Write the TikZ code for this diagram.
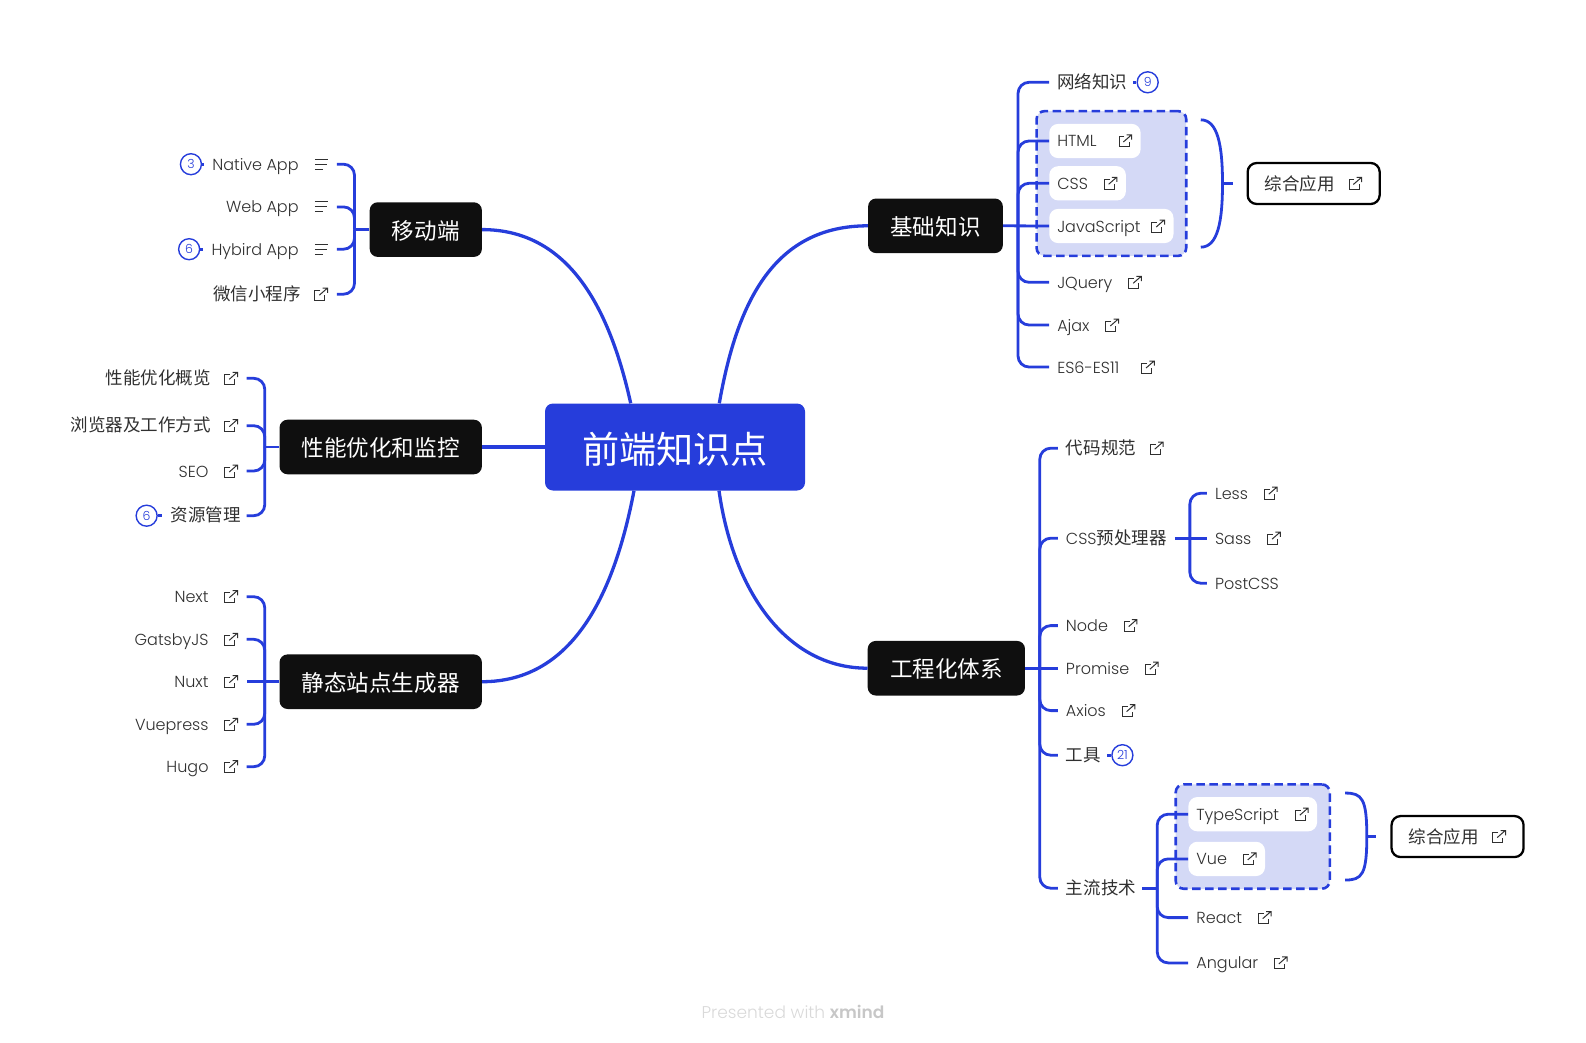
\documentclass[tikz,border=0pt]{standalone}
\usepackage{fontspec}
\usetikzlibrary{positioning,fit,backgrounds}
\setmainfont{Poppins}[UprightFont=* Light]
\newfontfamily\cjk{Noto Sans CJK SC}[Scale=1.094]
\newcommand{\cn}[1]{{\cjk #1}\kern-2pt}
\definecolor{mapblue}{HTML}{263DDB}
\definecolor{groupblue}{HTML}{D4D9F6}
\definecolor{topicblack}{HTML}{0F0F0F}
\definecolor{leafink}{HTML}{303030}
\begin{document}
\begin{tikzpicture}[
		root/.style={rectangle, rounded corners=8pt, fill=mapblue, text=white, minimum width=260pt, minimum height=87pt, text height=34pt, text depth=2pt, font=\cjk\fontsize{34}{40}\selectfont},
		topic/.style={rectangle, rounded corners=8pt, fill=topicblack, text=white, inner xsep=22.3pt, inner ysep=0pt, minimum height=54.6pt, text height=20.5pt, text depth=1.5pt, font=\cjk\fontsize{20.6}{24}\selectfont},
		leaf/.style={rectangle, rounded corners=9pt, inner xsep=8pt, inner ysep=0pt, minimum height=34.3pt, text height=14pt, text depth=2pt, text=leafink, font=\fontsize{16}{20}\selectfont},
		boxed/.style={leaf, fill=white},
		summary/.style={rectangle, rounded corners=9pt, draw=black, line width=2.3pt, fill=white, inner xsep=17pt, inner ysep=0pt, minimum height=41pt, text height=15pt, text depth=1pt, text=leafink, font=\fontsize{16}{20}\selectfont},
		group/.style={rectangle, rounded corners=8pt, draw=mapblue, fill=groupblue, line width=2.6pt, dash pattern=on 8.5pt off 4.5pt, inner sep=12.5pt},
		count/.style={circle, draw=mapblue, line width=1.4pt, fill=white, text=mapblue, minimum size=21pt, inner sep=0pt, font=\fontsize{12.5}{13}\selectfont},
		credit/.style={text=black!15, font=\fontsize{17}{20}\selectfont},
		mainline/.style={draw=mapblue, line width=3.3pt},
		branch/.style={draw=mapblue, line width=2.8pt, rounded corners=11pt},
		linked/.style={execute at end node=\hspace{30pt}, append after command={([xshift=-#1]\tikzlastnode.east) pic {linkicon}}},
		linked/.default=15.5pt,
		noted/.style={execute at end node=\hspace{30pt}, append after command={([xshift=-15.5pt]\tikzlastnode.east) pic {noteicon}}},
		linkicon/.pic={
			\draw[leafink, line width=1pt] (-1pt,4pt) -- (-6.3pt,4pt) -- (-6.3pt,-6pt) -- (3.7pt,-6pt) -- (3.7pt,-1pt);
			\draw[leafink, line width=1pt] (-2pt,-1pt) -- (6pt,6pt) (1.3pt,6pt) -- (6.3pt,6pt) -- (6.3pt,1.3pt);
		},
		noteicon/.pic={
			\draw[leafink, line width=1pt] (-6.5pt,5pt) -- (6.5pt,5pt) (-6.5pt,0pt) -- (5.5pt,0pt) (-6.5pt,-5pt) -- (2pt,-5pt);
		}
	]
	\useasboundingbox (0,0) rectangle (1586pt,-1043pt);

	\node[root] (ROOT) at (675pt,-447pt) {前端知识点};
	\node[topic, above right=221.2pt and 62.7pt of ROOT.east, anchor=west] (BASE) {基础知识};
	\node[topic, below right=221.2pt and 62.3pt of ROOT.east, anchor=west] (ENG) {工程化体系};
	\node[topic, above left=217.4pt and 62.7pt of ROOT.west, anchor=east] (MOB) {移动端};
	\node[topic, left=62.7pt of ROOT.west, anchor=east] (PERF) {性能优化和监控};
	\node[topic, below left=234.7pt and 62.7pt of ROOT.west, anchor=east] (STATIC) {静态站点生成器};

	\draw[mainline] ([xshift=44.3pt]ROOT.north) .. controls +(18pt,103pt) and +(-93pt,0pt) .. (BASE.west);
	\draw[mainline] ([xshift=44pt]ROOT.south) .. controls +(14pt,-99pt) and +(-82pt,0pt) .. (ENG.west);
	\draw[mainline] ([xshift=-44.3pt]ROOT.north) .. controls +(-20.7pt,93pt) and +(88pt,0pt) .. (MOB.east);
	\draw[mainline] (ROOT.west) -- (PERF.east);
	\draw[mainline] ([xshift=-41pt]ROOT.south) .. controls +(-19pt,-99pt) and +(93pt,0pt) .. (STATIC.east);

	\node[leaf, above right=143.5pt and 46pt of BASE.east, anchor=west] (NET) {\cn{网络知识}};
	\node[count, right=3pt of NET.east, anchor=west] (NETN) {9};
	\node[boxed, linked, below=58.7pt of NET.west, anchor=west] (HTML) {HTML\kern6pt};
	\node[boxed, linked, below=42.3pt of HTML.west, anchor=west] (CSS) {CSS};
	\node[boxed, linked, below=42.7pt of CSS.west, anchor=west] (JS) {JavaScript\kern-5pt};
	\node[leaf, linked, below=56.3pt of JS.west, anchor=west] (JQ) {JQuery};
	\node[leaf, linked, below=42.7pt of JQ.west, anchor=west] (AJAX) {Ajax};
	\node[leaf, linked, below=42pt of AJAX.west, anchor=west] (ES) {ES6-ES11\kern6pt};
	\begin{scope}[on background layer]
		\node[group, fit=(HTML)(CSS)(JS)] (WEB) {};
	\end{scope}
	\node[summary, linked=25.5pt, right=59pt of WEB.east, anchor=west] (WEBAPP) {\cn{综合应用}};
	\coordinate[right=15pt of BASE.east] (BASEBUS);
	\coordinate (WEBTOP) at ([shift={(13.3pt,-10pt)}]WEB.north east);
	\coordinate (WEBBOT) at ([shift={(13.3pt,10pt)}]WEB.south east);
	\coordinate[right=35pt of WEB.east] (WEBMID);

	\draw[branch] (BASE.east) -- (JS.west);
	\draw[branch] (BASEBUS) |- (NET.west);
	\draw[branch] (BASEBUS) |- (HTML.west);
	\draw[branch] (BASEBUS) |- (CSS.west);
	\draw[branch] (BASEBUS) |- (JQ.west);
	\draw[branch] (BASEBUS) |- (AJAX.west);
	\draw[branch] (BASEBUS) |- (ES.west);
	\draw[branch] (NET.east) -- (NETN);
	\draw[branch, rounded corners=0pt] (WEBTOP) .. controls +(17pt,0pt) and +(0pt,38pt) .. (WEBMID) .. controls +(0pt,-38pt) and +(17pt,0pt) .. (WEBBOT);
	\draw[branch] (WEBMID) -- ([xshift=-14pt]WEBAPP.west);

	\node[leaf, linked, above right=220pt and 32.6pt of ENG.east, anchor=west] (CODE) {\cn{代码规范}};
	\node[leaf, below=90pt of CODE.west, anchor=west] (PRE) {CSS\cn{预处理器}\kern2pt};
	\node[leaf, linked, above right=45pt and 32pt of PRE.east, anchor=west] (LESS) {Less};
	\node[leaf, linked, right=32pt of PRE.east, anchor=west] (SASS) {Sass};
	\node[leaf, below right=45pt and 32pt of PRE.east, anchor=west] (POST) {PostCSS};
	\node[leaf, linked, below=87.4pt of PRE.west, anchor=west] (NODE) {Node};
	\node[leaf, linked, below=42.6pt of NODE.west, anchor=west] (PROM) {Promise};
	\node[leaf, linked, below=42.4pt of PROM.west, anchor=west] (AXIOS) {Axios};
	\node[leaf, below=44.6pt of AXIOS.west, anchor=west] (TOOL) {\cn{工具}};
	\node[count, right=4pt of TOOL.east, anchor=west] (TOOLN) {21};
	\node[leaf, below=133pt of TOOL.west, anchor=west] (TECH) {\cn{主流技术}};
	\node[boxed, linked, above right=74pt and 46pt of TECH.east, anchor=west] (TS) {TypeScript};
	\node[boxed, linked, above right=29.3pt and 46pt of TECH.east, anchor=west] (VUE) {Vue};
	\node[leaf, linked, below right=29.4pt and 46pt of TECH.east, anchor=west] (REACT) {React};
	\node[leaf, linked, below right=74.7pt and 46pt of TECH.east, anchor=west] (ANG) {Angular};
	\begin{scope}[on background layer]
		\node[group, fit=(TS)(VUE)] (LANG) {};
	\end{scope}
	\node[summary, linked=25.5pt, right=59.3pt of LANG.east, anchor=west] (LANGAPP) {\cn{综合应用}};
	\coordinate[right=14.6pt of ENG.east] (ENGBUS);
	\coordinate[right=15pt of PRE.east] (PREBUS);
	\coordinate[right=15pt of TECH.east] (TECHBUS);
	\coordinate (LANGTOP) at ([shift={(14pt,-10pt)}]LANG.north east);
	\coordinate (LANGBOT) at ([shift={(14pt,10pt)}]LANG.south east);
	\coordinate[right=35.7pt of LANG.east] (LANGMID);

	\draw[branch] (ENG.east) -- (PROM.west);
	\draw[branch] (ENGBUS) |- (CODE.west);
	\draw[branch] (ENGBUS) |- (PRE.west);
	\draw[branch] (ENGBUS) |- (NODE.west);
	\draw[branch] (ENGBUS) |- (AXIOS.west);
	\draw[branch] (ENGBUS) |- (TOOL.west);
	\draw[branch] (ENGBUS) |- (TECH.west);
	\draw[branch] (TOOL.east) -- (TOOLN);
	\draw[branch] (PRE.east) -- (SASS.west);
	\draw[branch] (PREBUS) |- (LESS.west);
	\draw[branch] (PREBUS) |- (POST.west);
	\draw[branch] (TECH.east) -- (TECHBUS);
	\draw[branch] (TECHBUS) |- (TS.west);
	\draw[branch] (TECHBUS) |- (VUE.west);
	\draw[branch] (TECHBUS) |- (REACT.west);
	\draw[branch] (TECHBUS) |- (ANG.west);
	\draw[branch, rounded corners=0pt] (LANGTOP) .. controls +(17pt,0pt) and +(0pt,38pt) .. (LANGMID) .. controls +(0pt,-38pt) and +(17pt,0pt) .. (LANGBOT);
	\draw[branch] (LANGMID) -- ([xshift=-14pt]LANGAPP.west);

	\node[leaf, noted, above left=65.4pt and 32.7pt of MOB.west, anchor=east] (NATIVE) {Native App};
	\node[leaf, noted, below=42.7pt of NATIVE.east, anchor=east] (WEBAP) {Web App};
	\node[leaf, noted, below=42.3pt of WEBAP.east, anchor=east] (HYB) {Hybird App};
	\node[leaf, linked, below=45pt of HYB.east, anchor=east] (MINI) {\cn{微信小程序}};
	\node[count, left=2pt of NATIVE.west, anchor=east] (NATIVEN) {3};
	\node[count, left=3pt of HYB.west, anchor=east] (HYBN) {6};
	\coordinate[left=15pt of MOB.west] (MOBBUS);

	\draw[branch] (MOB.west) -- (MOBBUS);
	\draw[branch] (MOBBUS) |- (NATIVE.east);
	\draw[branch] (MOBBUS) |- (WEBAP.east);
	\draw[branch] (MOBBUS) |- (HYB.east);
	\draw[branch] (MOBBUS) |- (MINI.east);
	\draw[branch] (NATIVEN) -- (NATIVE.west);
	\draw[branch] (HYBN) -- (HYB.west);

	\node[leaf, linked, above left=68.7pt and 32.6pt of PERF.west, anchor=east] (OVER) {\cn{性能优化概览}};
	\node[leaf, linked, below=47.4pt of OVER.east, anchor=east] (BROW) {\cn{浏览器及工作方式}};
	\node[leaf, linked, below=45.3pt of BROW.east, anchor=east] (SEO) {SEO};
	\node[leaf, below=44.7pt of SEO.east, anchor=east] (RES) {\cn{资源管理}};
	\node[count, left=4.5pt of RES.west, anchor=east] (RESN) {6};
	\coordinate[left=14.6pt of PERF.west] (PERFBUS);

	\draw[branch] (PERF.west) -- (PERFBUS);
	\draw[branch] (PERFBUS) |- (OVER.east);
	\draw[branch] (PERFBUS) |- (BROW.east);
	\draw[branch] (PERFBUS) |- (SEO.east);
	\draw[branch] (PERFBUS) |- (RES.east);
	\draw[branch] (RESN) -- (RES.west);

	\node[leaf, linked, above left=85pt and 32.6pt of STATIC.west, anchor=east] (NEXT) {Next};
	\node[leaf, linked, below=42.6pt of NEXT.east, anchor=east] (GATSBY) {GatsbyJS};
	\node[leaf, linked, below=42.4pt of GATSBY.east, anchor=east] (NUXT) {Nuxt};
	\node[leaf, linked, below=42.6pt of NUXT.east, anchor=east] (VPRESS) {Vuepress};
	\node[leaf, linked, below=42.4pt of VPRESS.east, anchor=east] (HUGO) {Hugo};
	\coordinate[left=14.6pt of STATIC.west] (STATICBUS);

	\draw[branch] (STATIC.west) -- (NUXT.east);
	\draw[branch] (STATICBUS) |- (NEXT.east);
	\draw[branch] (STATICBUS) |- (GATSBY.east);
	\draw[branch] (STATICBUS) |- (VPRESS.east);
	\draw[branch] (STATICBUS) |- (HUGO.east);

	\node[credit] (CREDIT) at (793pt,-1012pt) {Presented with \textcolor{black!22}{\textbf{xmind}}};
\end{tikzpicture}
\end{document}
